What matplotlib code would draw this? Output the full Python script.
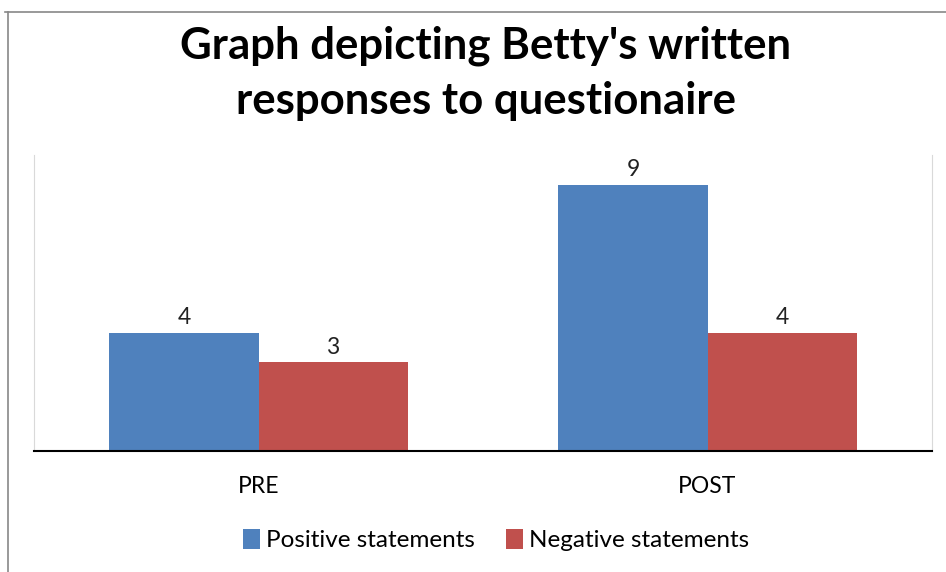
import matplotlib
matplotlib.use("Agg")
import matplotlib.pyplot as plt
from matplotlib.lines import Line2D
import numpy as np

categories = ["PRE", "POST"]
positive = [4, 9]
negative = [3, 4]

plt.rcParams['font.family'] = ['Lato', 'DejaVu Sans']

W, H = 946, 572
fig = plt.figure(figsize=(W / 100, H / 100), dpi=100)
ax = fig.add_axes([34 / W, 1 - 451 / H, (932 - 34) / W, (451 - 155) / H])

x = np.arange(len(categories))
w = 0.332
b1 = ax.bar(x - w / 2, positive, w, color='#4F81BD', label='Positive statements')
b2 = ax.bar(x + w / 2, negative, w, color='#C0504D', label='Negative statements')
for bars in (b1, b2):
    ax.bar_label(bars, padding=3, fontsize=16.5, color='#222222')

ax.set_xlim(-0.5, 1.5)
ax.set_ylim(0, 10)
ax.set_yticks([])
ax.set_xticks(x)
ax.set_xticklabels(categories, fontsize=16.5)
ax.tick_params(axis='x', length=0, pad=18)
ax.spines['top'].set_visible(False)
ax.spines['left'].set_color('#d9d9d9')
ax.spines['right'].set_color('#d9d9d9')
ax.spines['bottom'].set_color('black')
ax.spines['bottom'].set_linewidth(1.5)

fig.text(0.5 * (34 + 932) / W + 0.003, 1 - 73 / H, "Graph depicting Betty's written\nresponses to questionaire",
         ha='center', va='center', fontsize=31.5, fontweight='bold', linespacing=1.45)

fig.legend(loc='center', bbox_to_anchor=(496 / W, 1 - 540 / H), ncol=2, frameon=False,
           fontsize=17.5, handlelength=0.7, handleheight=0.9, handletextpad=0.25,
           columnspacing=1.3)

# outer chart frame (partially cropped)
fig.add_artist(Line2D([5 / W, 1], [1 - 12 / H, 1 - 12 / H], color='#888888', lw=1.2))
fig.add_artist(Line2D([8 / W, 8 / W], [0, 1 - 12 / H], color='#888888', lw=1.2))

fig.savefig("out.png", dpi=100)
